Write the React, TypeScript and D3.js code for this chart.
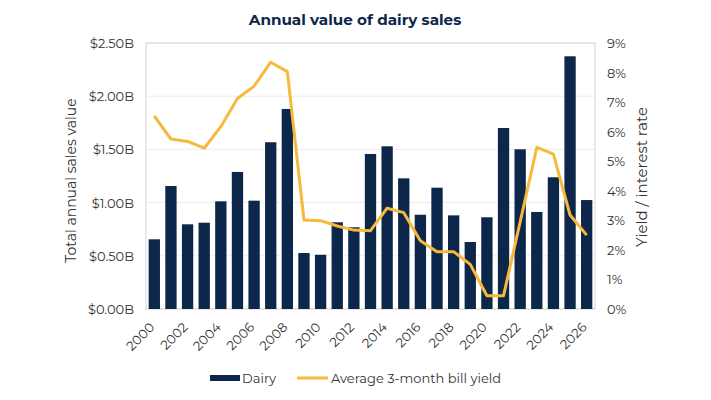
import React from "react";
import * as d3 from "d3";

const years: number[] = d3.range(2000, 2027);
const dairy: number[] = [0.655, 1.156, 0.796, 0.811, 1.012, 1.288, 1.018, 1.567, 1.88, 0.526, 0.51, 0.815, 0.768, 1.457, 1.529, 1.228, 0.886, 1.14, 0.88, 0.63, 0.862, 1.701, 1.501, 0.912, 1.238, 2.375, 1.024];
const yieldPct: number[] = [6.53, 5.75, 5.67, 5.44, 6.17, 7.12, 7.54, 8.35, 8.03, 3.01, 2.99, 2.81, 2.67, 2.65, 3.41, 3.26, 2.31, 1.94, 1.94, 1.51, 0.45, 0.45, 2.95, 5.47, 5.24, 3.18, 2.5];
const leftTicks: number[] = [0, 0.5, 1, 1.5, 2, 2.5];
const rightTicks: number[] = [0, 1, 2, 3, 4, 5, 6, 7, 8, 9];
const xTickYears: number[] = years.filter((y) => y % 2 === 0);

const W = 711, H = 400;
const m = { left: 146, right: 595, top: 43, bottom: 309 };
const BAR = "#0c2749";
const LINE = "#f6b93b";
const FONT = "Montserrat, 'Open Sans', sans-serif";
const TXT = "#333333";

export default function App() {
  const x = d3.scaleBand<number>().domain(years).range([m.left, m.right]).paddingInner(0.32).paddingOuter(0.16);
  const yL = d3.scaleLinear().domain([0, 2.5]).range([m.bottom, m.top]);
  const yR = d3.scaleLinear().domain([0, 9]).range([m.bottom, m.top]);
  const line = d3.line<number>().x((_, i) => (x(years[i]) as number) + x.bandwidth() / 2).y((d) => yR(d));

  return (
    <svg width={W} height={H} style={{ position: "absolute", left: 0, top: 0, fontFamily: FONT }}>
      <rect x={0} y={0} width={W} height={H} fill="#fff" />
      <text x={355} y={25} textAnchor="middle" fontSize={15.2} fontWeight={700} fill="#0c2749">Annual value of dairy sales</text>
      {leftTicks.map((t) => (
        <line key={"g" + t} x1={m.left} x2={m.right} y1={yL(t)} y2={yL(t)} stroke="#ececec" strokeWidth={1} />
      ))}
      <rect x={m.left} y={m.top} width={m.right - m.left} height={m.bottom - m.top} fill="none" stroke="#d6d6d6" strokeWidth={1} />
      {dairy.map((v, i) => (
        <rect key={years[i]} x={x(years[i])} y={yL(v)} width={x.bandwidth()} height={m.bottom - yL(v)} fill={BAR} />
      ))}
      <path d={line(yieldPct) || ""} fill="none" stroke={LINE} strokeWidth={3} strokeLinejoin="round" />
      {leftTicks.map((t) => (
        <text key={"l" + t} x={134} y={yL(t) + 5} textAnchor="end" fontSize={13} fill={TXT}>{"$" + t.toFixed(2) + "B"}</text>
      ))}
      {rightTicks.map((t) => (
        <text key={"r" + t} x={607} y={yR(t) + 5} textAnchor="start" fontSize={13} fill={TXT}>{t + "%"}</text>
      ))}
      {xTickYears.map((yr) => {
        const cx = (x(yr) as number) + x.bandwidth() / 2;
        return (
          <text key={"x" + yr} transform={`translate(${cx + 1},${m.bottom + 19}) rotate(-45)`} textAnchor="end" fontSize={13} fill={TXT}>{yr}</text>
        );
      })}
      <text transform={`translate(76,180.5) rotate(-90)`} textAnchor="middle" fontSize={14} fill={TXT}>Total annual sales value</text>
      <text transform={`translate(642,177) rotate(-90)`} textAnchor="middle" fontSize={15} fill={TXT} dy="0.35em">Yield / interest rate</text>
      <rect x={210} y={375} width={30} height={6} fill={BAR} />
      <text x={242} y={383} fontSize={13} fill={TXT}>Dairy</text>
      <line x1={297} x2={328} y1={378} y2={378} stroke={LINE} strokeWidth={3} />
      <text x={331} y={383} fontSize={13} fill={TXT}>Average 3-month bill yield</text>
    </svg>
  );
}
